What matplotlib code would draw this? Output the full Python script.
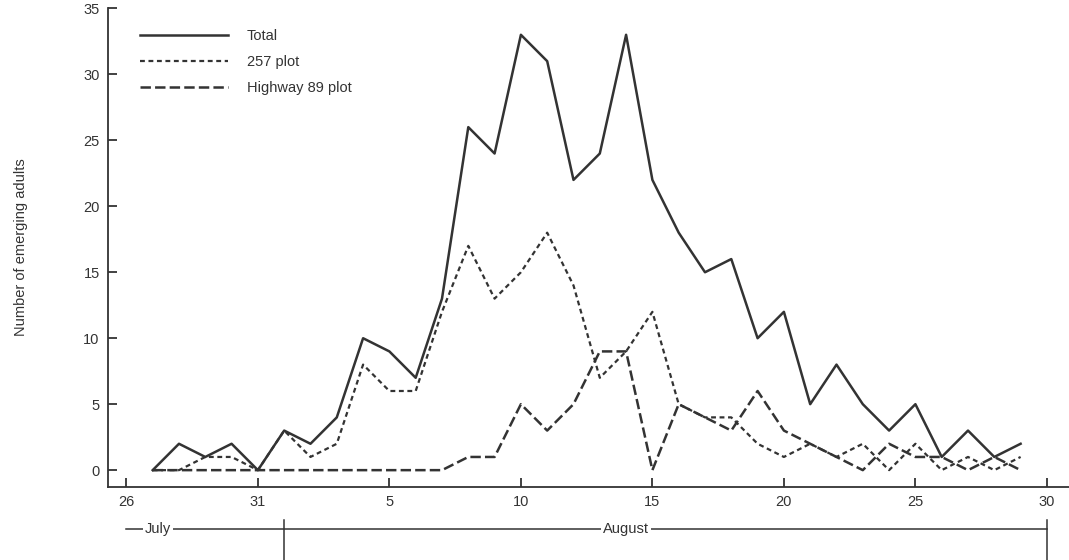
import matplotlib
matplotlib.use("Agg")
import matplotlib.pyplot as plt
import pandas as pd

# emergence counts, one value per day from July 27 to August 29
dates = pd.date_range("1976-07-27", "1976-08-29", freq="D")
total = [0, 2, 1, 2, 0, 3, 2, 4, 10, 9, 7, 13, 26, 24, 33, 31, 22, 24, 33,
         22, 18, 15, 16, 10, 12, 5, 8, 5, 3, 5, 1, 3, 1, 2]
plot_257 = [0, 0, 1, 1, 0, 3, 1, 2, 8, 6, 6, 12, 17, 13, 15, 18, 14, 7, 9,
            12, 5, 4, 4, 2, 1, 2, 1, 2, 0, 2, 0, 1, 0, 1]
highway_89 = [0, 0, 0, 0, 0, 0, 0, 0, 0, 0, 0, 0, 1, 1, 5, 3, 5, 9, 9,
              0, 5, 4, 3, 6, 3, 2, 1, 0, 2, 1, 1, 0, 1, 0]

tick_dates = pd.date_range("1976-07-26", "1976-08-30", freq="5D")
y_ticks = [0, 5, 10, 15, 20, 25, 30, 35]

ink = "#333333"
plt.rcParams["font.family"] = ["Liberation Sans", "DejaVu Sans"]
plt.rcParams["lines.scale_dashes"] = False

fig = plt.figure(figsize=(10.69, 5.6), dpi=100)
ax = fig.add_axes([0.101, 0.131, 0.899, 0.854])

ax.plot(dates, total, color=ink, lw=1.8, label="Total")
ax.plot(dates, plot_257, color=ink, lw=1.6, dashes=(3.5, 2.6), label="257 plot")
ax.plot(dates, highway_89, color=ink, lw=1.8, dashes=(7.5, 3), label="Highway 89 plot")

start = pd.Timestamp("1976-07-26")
ax.set_xlim(start - pd.Timedelta(days=0.7), start + pd.Timedelta(days=35.84))
ax.set_ylim(-1.25, 35)

ax.set_xticks(tick_dates)
ax.set_xticklabels([str(d.day) for d in tick_dates])
ax.set_yticks(y_ticks)
ax.tick_params(direction="in", length=6.5, width=1.3, colors=ink, labelsize=10.5, pad=6)

for side in ["top", "right"]:
    ax.spines[side].set_visible(False)
for side in ["left", "bottom"]:
    ax.spines[side].set_color(ink)
    ax.spines[side].set_linewidth(1.3)

ax.set_ylabel("Number of emerging adults", fontsize=10.5, color=ink, labelpad=40)

leg = ax.legend(loc="upper left", bbox_to_anchor=(0.02, 0.985), frameon=False,
                handlelength=6.0, handletextpad=1.3, labelspacing=0.85, fontsize=10.5)
for t in leg.get_texts():
    t.set_color(ink)

# month bar under the date axis
tr = ax.get_xaxis_transform()
aug_start = pd.Timestamp("1976-08-01")
aug_end = pd.Timestamp("1976-08-30")
ax.plot([start, aug_end], [-0.089, -0.089], transform=tr, color=ink, lw=1.1, clip_on=False)
for d in [aug_start, aug_end]:
    ax.plot([d, d], [-0.07, -0.16], transform=tr, color=ink, lw=1.1, clip_on=False)
box = dict(facecolor="white", edgecolor="none", pad=1.5)
ax.text(start + pd.Timedelta(days=1.2), -0.089, "July", transform=tr, ha="center", va="center",
        fontsize=10.5, color=ink, bbox=box)
ax.text(pd.Timestamp("1976-08-14"), -0.089, "August", transform=tr, ha="center", va="center",
        fontsize=10.5, color=ink, bbox=box)

fig.savefig("out.png", dpi=100)
